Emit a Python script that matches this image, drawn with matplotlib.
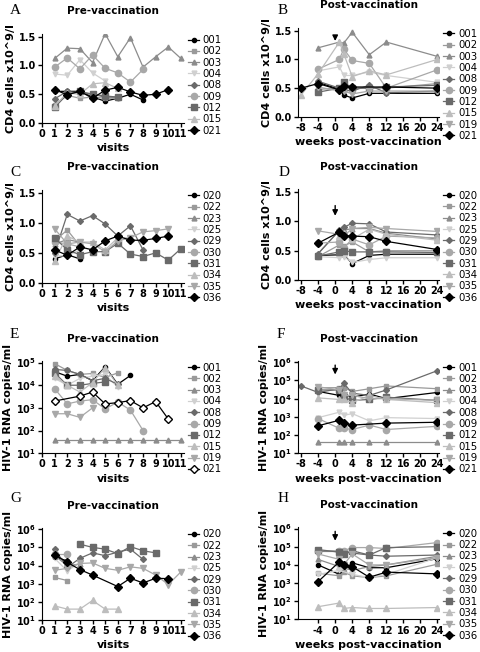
import numpy as np
import matplotlib
matplotlib.use('Agg')
import matplotlib.pyplot as plt
from matplotlib.ticker import NullLocator

n = np.nan

ids_1 = ['001', '002', '003', '004', '008', '009', '012', '015', '019', '021']
ids_2 = ['020', '022', '023', '025', '029', '030', '031', '034', '035', '036']
visits = [1, 2, 3, 4, 5, 6, 7, 8, 9, 10, 11]
weeks = [-8, -4, 1, 2, 4, 8, 12, 24]

# A: CD4 pre-vaccination (no 019)
cd4_pre_1 = {
    '001': [0.55, 0.55, 0.55, 0.45, 0.38, 0.43, 0.50, 0.40],
    '002': [0.32, 0.48, 0.43, 0.45, 0.43, 0.43],
    '003': [1.12, 1.30, 1.29, 1.05, 1.55, 1.15, 1.48, 0.97, 1.15, 1.32, 1.12],
    '004': [0.85, 0.83, 1.10, 0.87, 0.73],
    '008': [0.42, 0.55, 0.52, 0.50, 0.45, 0.45],
    '009': [0.97, 1.13, 0.94, 1.18, 0.95, 0.87, 0.71, 0.93],
    '012': [0.27, 0.50, 0.55, 0.50, 0.47, 0.45],
    '015': [0.30, 0.52, 0.50, 0.68, 0.70, 0.60],
    '021': [0.58, 0.49, 0.55, 0.43, 0.57, 0.62, 0.54, 0.48, 0.50, 0.58],
}
# B: CD4 post-vaccination
cd4_post_1 = {
    '001': [n, 0.60, 0.48, 0.38, 0.33, 0.41, 0.41, 0.41],
    '002': [n, 0.48, 0.50, 0.60, 0.50, 0.50, 0.50, 0.58],
    '003': [n, 1.20, 1.30, 1.28, 1.47, 1.08, 1.30, 1.05],
    '004': [n, 0.80, 0.87, 0.72, 0.72, 0.78, 0.72, 0.60],
    '008': [n, 0.62, 0.50, 0.47, 0.45, 0.55, 0.42, 0.45],
    '009': [n, 0.83, 1.00, 1.18, 0.98, 0.93, 0.50, 0.82],
    '012': [n, 0.43, 0.50, 0.60, 0.50, 0.50, 0.52, 0.55],
    '015': [0.38, 0.75, 1.30, 1.10, 0.70, 0.80, 0.73, 1.00],
    '019': [n, 0.52, 0.45, 0.45, 0.40, 0.45, 0.45, 0.45],
    '021': [0.50, 0.58, 0.47, 0.53, 0.52, n, 0.52, 0.50],
}
# C: CD4 pre-vaccination, second group
cd4_pre_2 = {
    '020': [0.40, 0.47, 0.40],
    '022': [0.70, 0.88, 0.62],
    '023': [0.65, 0.72, 0.68],
    '025': [0.45, 0.45, 0.55],
    '029': [0.50, 1.14, 1.03, 1.12, 0.98, 0.78, 0.95, 0.55],
    '030': [0.68, 0.65, 0.60],
    '031': [0.75, 0.55, 0.47, 0.52, 0.52, 0.66, 0.48, 0.44, 0.50, 0.38, 0.57],
    '034': [0.37, 0.78, 0.68, 0.68, 0.55, 0.75, 0.75],
    '035': [0.90, 0.65, 0.68, 0.65, 0.52, 0.70, 0.75, 0.85, 0.87, 0.90],
    '036': [0.55, 0.46, 0.60, 0.55, 0.70, 0.78, 0.71, 0.71, 0.74, 0.78],
}
# D: CD4 post-vaccination, second group
cd4_post_2 = {
    '020': [n, 0.42, 0.43, 0.43, 0.28, 0.42, 0.44, 0.44],
    '022': [n, 0.40, 0.60, 0.58, 0.65, 0.48, 0.50, 0.50],
    '023': [n, 0.45, 0.85, 0.85, 0.88, 0.88, 0.80, 0.70],
    '025': [n, 0.40, 0.38, 0.40, 0.30, 0.35, 0.38, 0.38],
    '029': [n, 0.45, 0.85, 0.90, 0.97, 0.96, 0.82, 0.77],
    '030': [n, 0.63, 0.65, 0.55, 0.70, 0.60, 0.75, 0.72],
    '031': [n, 0.41, 0.48, 0.50, 0.48, 0.48, 0.48, 0.47],
    '034': [n, n, 0.75, 0.80, 0.70, 0.87, 0.78, 0.68],
    '035': [n, 0.84, 0.78, 0.75, 0.88, 0.90, 0.88, 0.83],
    '036': [n, 0.63, 0.82, 0.76, 0.75, 0.74, 0.66, 0.52],
}
# E: viral load pre-vaccination
rna_pre_1 = {
    '001': [40000, 25000, 30000, 16000, 65000, 11000, 27000],
    '002': [90000, 45000, 30000, 33000, 22000, 35000],
    '003': [40, 40, 40, 40, 40, 40, 40, 40, 40, 40, 40],
    '004': [20000, 10000, 20000, 25000, 30000, 8000],
    '008': [50000, 45000, 30000, 16000, 20000, 11000],
    '009': [7000, 1500, 2000, 2300, 900, 1800, 800, 100],
    '012': [35000, 10000, 10000, 12000, 14000],
    '015': [25000, 10000, 5000, 13000, 60000, 10000],
    '019': [550, 550, 380, 1000],
    '021': [2000, n, 3300, 5000, 1500, 1700, 2100, 1000, 1900, 320],
}
# F: viral load post-vaccination
rna_post_1 = {
    '001': [n, 25000, 15000, 18000, 12000, 18000, 10000, 22000],
    '002': [n, 40000, 40000, 40000, 25000, 35000, 50000, 35000],
    '003': [n, 40, 40, 40, 40, 40, 40, 40],
    '004': [n, 900, 1800, 1200, 1500, 600, 900, 800],
    '008': [50000, 22000, 35000, 70000, 20000, 15000, 30000, 350000],
    '009': [n, 800, 230, 230, 200, 350, 200, 300],
    '012': [n, 30000, 30000, 12000, 8000, 9000, 12000, 8000],
    '015': [n, 11000, 9000, 9000, 6000, 15000, 9000, 6000],
    '019': [n, 45000, 30000, 15000, 15000, 10000, 10000, 8000],
    '021': [n, 320, 650, 450, 350, n, 450, 500],
}
# G: viral load pre-vaccination, second group
rna_pre_2 = {
    '020': [30000, 18000],
    '022': [2200, 1500],
    '023': [35000, 10000, 12000],
    '025': [25000, 5000, 15000],
    '029': [80000, 8000, 25000, 50000, 35000, 55000, 80000, 22000],
    '030': [45000, 45000],
    '031': [n, n, 150000, 100000, 80000, 45000, 110000, 65000, 50000],
    '034': [60, 40, 40, 120, 40, 40],
    '035': [5500, 7000, 13000, 14000, 7000, 5500, 8500, 7000, 3000, 900, 4500],
    '036': [40000, 15000, 6000, 3000, n, 700, 2000, 1100, 2000, 1900],
}
# H: viral load post-vaccination, second group
rna_post_2 = {
    '020': [n, 10000, 3000, n, 13000, 7000, 7000, 22000],
    '022': [n, 3500, 2500, 4000, 2500, 2000, 2500, 11000],
    '023': [n, 20000, 8000, n, 5000, 8000, 10000, 30000],
    '025': [n, 3000, 5000, n, 3000, 2000, 3000, 25000],
    '029': [n, 55000, 55000, 50000, 45000, 35000, 30000, 35000],
    '030': [n, 60000, 60000, 60000, 90000, 90000, 80000, 170000],
    '031': [n, 70000, 50000, 40000, 60000, 35000, 90000, 100000],
    '034': [n, 50, 80, 40, 45, 40, 40, 45],
    '035': [n, 40000, 20000, 10000, 40000, 10000, 10000, 25000],
    '036': [n, 1200, 15000, 10000, 8000, 2100, 4000, 3200],
}

# marker style for each slot (same for both patient groups)
styles = [
    dict(color='black', marker='o', ms=3),
    dict(color='#9a9a9a', marker='s', ms=3.5),
    dict(color='#8c8c8c', marker='^', ms=3.5),
    dict(color='#d0d0d0', marker='v', ms=3.5),
    dict(color='#6a6a6a', marker='D', ms=3),
    dict(color='#a8a8a8', marker='o', ms=4.5),
    dict(color='#6a6a6a', marker='s', ms=4.5),
    dict(color='#bdbdbd', marker='^', ms=4.5),
    dict(color='#a8a8a8', marker='v', ms=4.5),
    dict(color='black', marker='D', ms=4.5),
]

tick_font = dict(fontsize=7, fontweight='bold')

fig = plt.figure(figsize=(4.8, 6.52), dpi=100)


def draw(pos, data, ids, xs, post, log, letter, letter_xy, open_last=False, arrow=None, hide_m8=False):
    ax = fig.add_axes(pos)
    for i, pid in enumerate(ids):
        if pid not in data:
            continue
        y = np.array(data[pid], dtype=float)
        x = np.array(xs[:len(y)], dtype=float)
        m = ~np.isnan(y)
        st = styles[i]
        mfc = st['color']
        if open_last and i == len(ids) - 1:
            mfc = 'white'
        ax.plot(x[m], y[m], color=st['color'], marker=st['marker'], ms=st['ms'],
                mfc=mfc, mec=st['color'], lw=0.9, label=pid)
    for s in ['top', 'right']:
        ax.spines[s].set_visible(False)
    ax.tick_params(direction='out', length=3, width=1, pad=1.5)
    if post:
        ax.set_xlim(-8.7, 24.4)
        ticks = [-4, 0, 4, 8, 12, 16, 20, 24] if hide_m8 else [-8, -4, 0, 4, 8, 12, 16, 20, 24]
        ax.set_xticks(ticks)
        ax.set_xticklabels([str(t) for t in ticks], **tick_font)
        ax.set_xlabel('weeks post-vaccination', fontsize=8, fontweight='bold', labelpad=3)
        ax.set_title('Post-vaccination', fontsize=7.5, fontweight='bold', pad=14)
    else:
        ax.set_xlim(0, 11.25)
        ax.set_xticks(range(0, 12))
        ax.set_xticklabels([str(t) for t in range(0, 12)], **tick_font)
        ax.set_xlabel('visits', fontsize=8, fontweight='bold', labelpad=3)
        ax.set_title('Pre-vaccination', fontsize=7.5, fontweight='bold', pad=14)
    if log:
        ax.set_yscale('log')
        top = 6 if post or letter != 'E' else 5
        ax.set_ylim(10, 10 ** top * 1.15)
        ax.set_yticks([10 ** k for k in range(1, top + 1)])
        ax.set_yticklabels([r'$\mathbf{10^{%d}}$' % k for k in range(1, top + 1)], fontsize=7)
        ax.yaxis.set_minor_locator(NullLocator())
        ax.set_ylabel('HIV-1 RNA copies/ml', fontsize=8, fontweight='bold', labelpad=2)
    else:
        ax.set_ylim(0, 1.55)
        ax.set_yticks([0, 0.5, 1.0, 1.5])
        ax.set_yticklabels(['0.0', '0.5', '1.0', '1.5'], **tick_font)
        ax.set_ylabel('CD4 cells x10^9/l', fontsize=8, fontweight='bold', labelpad=2)
    if arrow is not None:
        ax.annotate('', xy=(0, arrow[1]), xytext=(0, arrow[0]),
                    arrowprops=dict(arrowstyle='-|>', color='black', lw=1, mutation_scale=8))
    ax.legend(loc='upper left', bbox_to_anchor=(1.0, 1.03), frameon=False, fontsize=7.3,
              handlelength=1.1, handletextpad=0.35, labelspacing=0.13, borderpad=0.1,
              borderaxespad=0.3)
    fig.text(letter_xy[0] / 480, 1 - letter_xy[1] / 652, letter, fontsize=11,
             family='Liberation Serif', va='center')
    return ax


W = 0.296
H = 0.137
draw([0.0875, 0.8113, W, H], cd4_pre_1, ids_1, visits, False, False, 'A', (10, 10))
draw([0.621, 0.8206, 0.294, H], cd4_post_1, ids_1, weeks, True, False, 'B', (278, 10), arrow=(1.46, 1.27))
draw([0.0875, 0.566, W, 0.143], cd4_pre_2, ids_2, visits, False, False, 'C', (10, 173))
draw([0.621, 0.5706, 0.294, 0.139], cd4_post_2, ids_2, weeks, True, False, 'D', (279, 173), arrow=(1.32, 1.05))
draw([0.0875, 0.305, W, 0.141], rna_pre_1, ids_1, visits, False, True, 'E', (10, 334), open_last=True)
draw([0.621, 0.305, 0.294, 0.141], rna_post_1, ids_1, weeks, True, True, 'F', (277, 334), arrow=(1.0e6, 1.5e5))
draw([0.0875, 0.049, W, 0.141], rna_pre_2, ids_2, visits, False, True, 'G', (10, 498))
draw([0.621, 0.050, 0.294, 0.141], rna_post_2, ids_2, weeks, True, True, 'H', (278, 498), arrow=(1.0e6, 1.5e5), hide_m8=True)

fig.savefig('out.png', dpi=100)
